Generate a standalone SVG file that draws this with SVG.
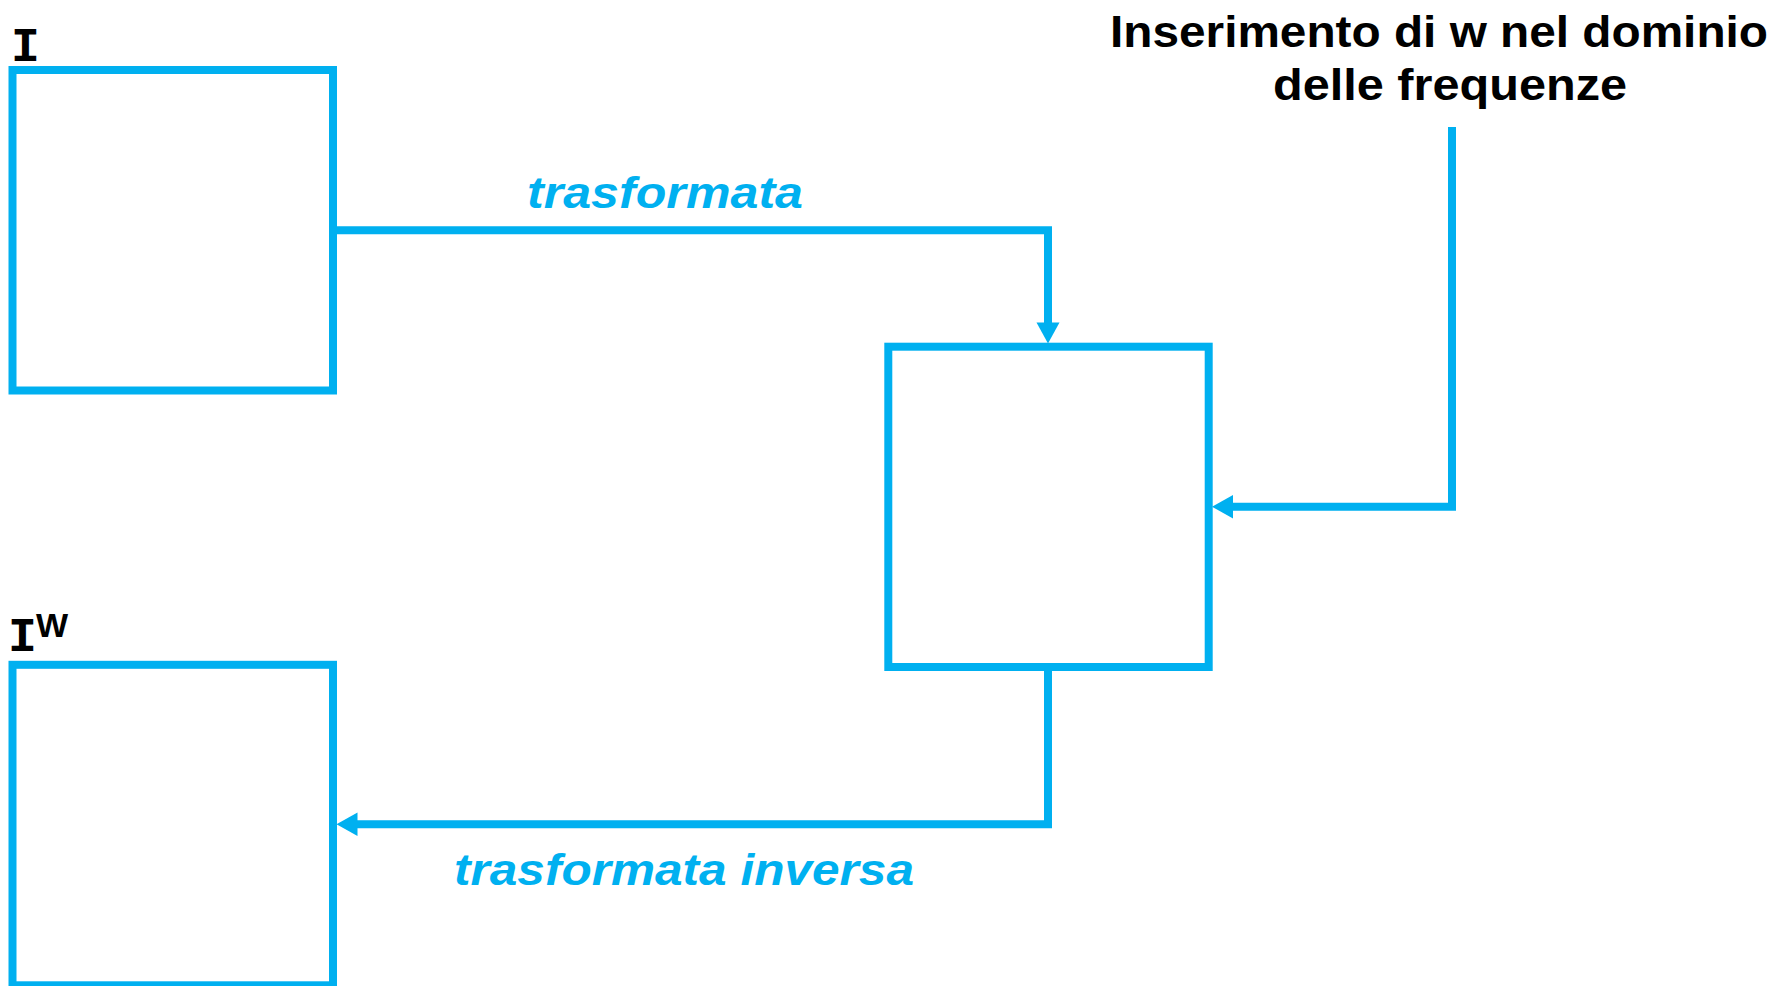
<svg xmlns="http://www.w3.org/2000/svg" width="1790" height="986" viewBox="0 0 1790 986">
  <style>
    .box { fill: none; stroke: #00B0F0; stroke-width: 8; }
    .wire { fill: none; stroke: #00B0F0; stroke-width: 8; stroke-linejoin: miter; }
    .head { fill: #00B0F0; }
    .lbl { font-family: "Liberation Sans", Arial, sans-serif; font-weight: bold; fill: #000; }
    .img { font-family: "Liberation Mono", "Courier New", monospace; font-weight: bold; fill: #000; }
    .flow { font-family: "Liberation Sans", Arial, sans-serif; font-weight: bold; font-style: italic; fill: #00B0F0; font-size: 44px; }
  </style>
  <rect width="1790" height="986" fill="#fff"/>

  <!-- connectors -->
  <g id="connectors">
    <!-- forward transform: I -> frequency domain block -->
    <polyline class="wire" points="337,230.3 1048,230.3 1048,324"/>
    <polygon class="head" points="1036.5,322.5 1059.5,322.5 1048,343.5"/>
    <!-- watermark insertion -->
    <polyline class="wire" points="1452,127 1452,506.7 1231,506.7"/>
    <polygon class="head" points="1233,495 1233,518.5 1212,506.7"/>
    <!-- inverse transform: frequency block -> I^W -->
    <polyline class="wire" points="1048,671 1048,824.3 356,824.3"/>
    <polygon class="head" points="357.5,812.5 357.5,836 336.5,824.3"/>
  </g>

  <g id="node-I">
    <rect class="box" x="12.5" y="70" width="320.5" height="320.5"/>
    <text class="img" x="11" y="61" font-size="48">I</text>
  </g>

  <g id="node-freq">
    <rect class="box" x="888.3" y="346.7" width="320.4" height="320.3"/>
  </g>

  <g id="node-IW">
    <rect class="box" x="12.5" y="664.8" width="320.5" height="320.5"/>
    <text class="img" x="8" y="651" font-size="48">I</text>
    <text class="lbl" x="36" y="637" font-size="34" font-weight="normal">W</text>
  </g>

  <g id="note">
    <text class="lbl" x="1110" y="46.7" font-size="45" textLength="658" lengthAdjust="spacingAndGlyphs">Inserimento di w nel dominio</text>
    <text class="lbl" x="1273" y="100" font-size="45" textLength="354" lengthAdjust="spacingAndGlyphs">delle frequenze</text>
  </g>

  <g id="labels">
    <text class="flow" x="527" y="208" textLength="276" lengthAdjust="spacingAndGlyphs">trasformata</text>
    <text class="flow" x="454" y="885" textLength="460" lengthAdjust="spacingAndGlyphs">trasformata inversa</text>
  </g>
</svg>
